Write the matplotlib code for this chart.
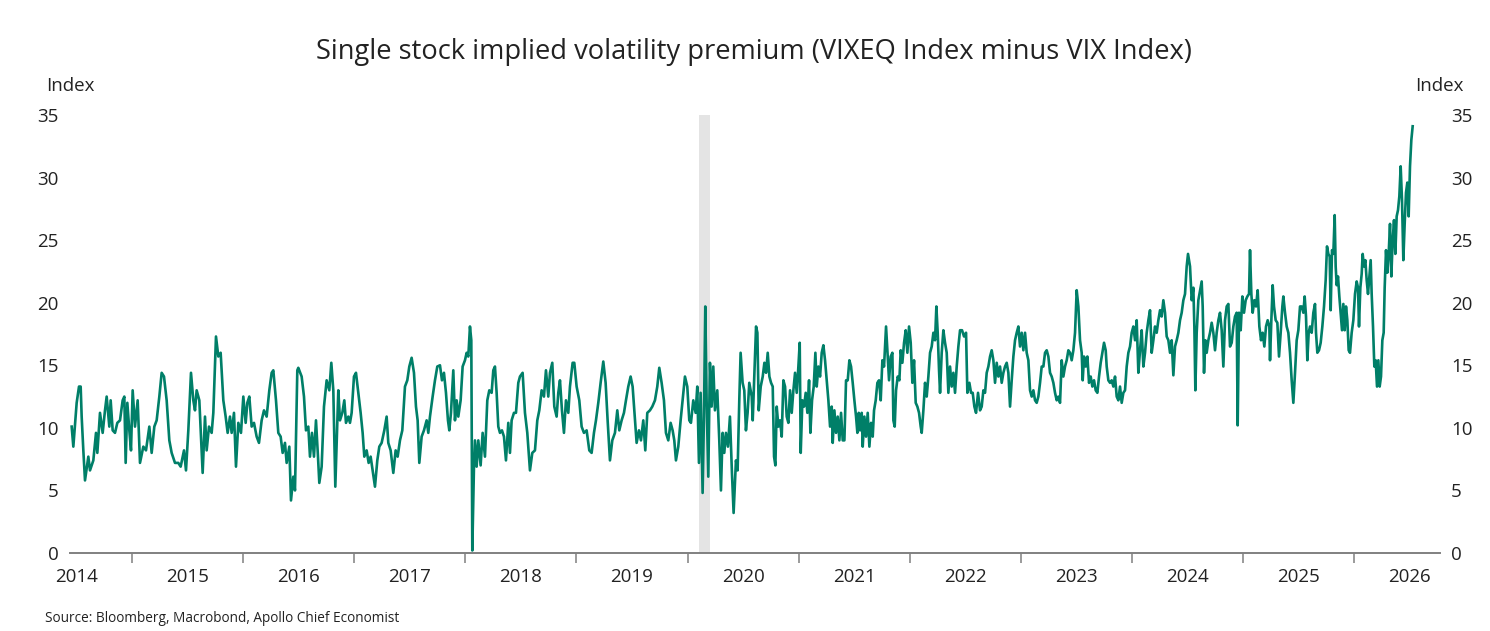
import matplotlib
matplotlib.use("Agg")
import matplotlib.pyplot as plt
import numpy as np

plt.rcParams['font.family'] = ['Open Sans', 'DejaVu Sans']

# decimal year, VIXEQ minus VIX
years = [
    2014.457, 2014.472, 2014.502, 2014.523, 2014.538, 2014.547, 2014.562, 2014.577, 2014.607, 2014.622,
    2014.652, 2014.676, 2014.688, 2014.712, 2014.736, 2014.757, 2014.772, 2014.796, 2014.808, 2014.826,
    2014.847, 2014.868, 2014.892, 2014.916, 2014.931, 2014.943, 2014.958, 2014.976, 2014.991, 2015.006,
    2015.027, 2015.051, 2015.072, 2015.102, 2015.126, 2015.156, 2015.177, 2015.201, 2015.222, 2015.246,
    2015.267, 2015.288, 2015.312, 2015.336, 2015.357, 2015.387, 2015.417, 2015.438, 2015.468, 2015.486,
    2015.507, 2015.531, 2015.552, 2015.567, 2015.582, 2015.606, 2015.624, 2015.636, 2015.657, 2015.672,
    2015.693, 2015.717, 2015.732, 2015.756, 2015.777, 2015.798, 2015.822, 2015.843, 2015.861, 2015.882,
    2015.897, 2015.918, 2015.936, 2015.957, 2015.981, 2016.002, 2016.023, 2016.038, 2016.056, 2016.077,
    2016.098, 2016.122, 2016.143, 2016.167, 2016.188, 2016.212, 2016.236, 2016.257, 2016.272, 2016.296,
    2016.317, 2016.338, 2016.356, 2016.377, 2016.392, 2016.416, 2016.431, 2016.452, 2016.467, 2016.488,
    2016.497, 2016.527, 2016.548, 2016.566, 2016.587, 2016.602, 2016.620, 2016.638, 2016.656, 2016.674,
    2016.686, 2016.707, 2016.728, 2016.752, 2016.776, 2016.794, 2016.812, 2016.830, 2016.857, 2016.872,
    2016.893, 2016.911, 2016.926, 2016.947, 2016.962, 2016.977, 2016.998, 2017.016, 2017.037, 2017.058,
    2017.076, 2017.091, 2017.112, 2017.130, 2017.148, 2017.166, 2017.187, 2017.208, 2017.226, 2017.247,
    2017.271, 2017.292, 2017.307, 2017.328, 2017.352, 2017.373, 2017.391, 2017.412, 2017.433, 2017.457,
    2017.478, 2017.496, 2017.517, 2017.538, 2017.556, 2017.571, 2017.586, 2017.607, 2017.628, 2017.652,
    2017.667, 2017.682, 2017.706, 2017.727, 2017.748, 2017.772, 2017.790, 2017.808, 2017.826, 2017.844,
    2017.856, 2017.871, 2017.892, 2017.907, 2017.922, 2017.937, 2017.958, 2017.976, 2017.997, 2018.012,
    2018.027, 2018.042, 2018.054, 2018.063, 2018.078, 2018.087, 2018.102, 2018.117, 2018.138, 2018.156,
    2018.177, 2018.198, 2018.216, 2018.237, 2018.252, 2018.267, 2018.282, 2018.297, 2018.312, 2018.330,
    2018.348, 2018.366, 2018.387, 2018.402, 2018.417, 2018.438, 2018.456, 2018.477,
    2018.492, 2018.516, 2018.537, 2018.558, 2018.582, 2018.603, 2018.627, 2018.648, 2018.666, 2018.687,
    2018.708, 2018.726, 2018.747, 2018.762, 2018.783, 2018.801, 2018.822, 2018.837, 2018.852, 2018.870,
    2018.888, 2018.906, 2018.927, 2018.942, 2018.966, 2018.981, 2019.002, 2019.026, 2019.047, 2019.068,
    2019.092, 2019.116, 2019.137, 2019.158, 2019.176, 2019.197, 2019.218, 2019.242, 2019.263, 2019.281,
    2019.302, 2019.323, 2019.347, 2019.368, 2019.386, 2019.407, 2019.428, 2019.446, 2019.467, 2019.488,
    2019.506, 2019.527, 2019.542, 2019.563, 2019.581, 2019.602, 2019.620, 2019.638, 2019.662, 2019.683,
    2019.707, 2019.728, 2019.746, 2019.767, 2019.788, 2019.806, 2019.827, 2019.848, 2019.866, 2019.881,
    2019.896, 2019.917, 2019.938, 2019.956, 2019.977, 2019.998, 2020.016, 2020.031, 2020.052, 2020.073,
    2020.088, 2020.103, 2020.118, 2020.136, 2020.148, 2020.160, 2020.172, 2020.187, 2020.202, 2020.217,
    2020.232, 2020.247, 2020.268, 2020.286, 2020.301, 2020.316, 2020.331, 2020.346, 2020.364, 2020.382,
    2020.400, 2020.415, 2020.436, 2020.451, 2020.466, 2020.478, 2020.496, 2020.511, 2020.526, 2020.541,
    2020.556,
    2020.578, 2020.587, 2020.602, 2020.617, 2020.629, 2020.641, 2020.659, 2020.677, 2020.692, 2020.707,
    2020.722, 2020.737, 2020.752, 2020.767, 2020.779, 2020.791, 2020.803, 2020.818, 2020.833, 2020.848,
    2020.863, 2020.878, 2020.893, 2020.908, 2020.923, 2020.938, 2020.953, 2020.968, 2020.983, 2020.998,
    2021.010, 2021.019, 2021.034, 2021.049, 2021.064, 2021.079, 2021.094, 2021.106, 2021.121, 2021.136,
    2021.151, 2021.163, 2021.178, 2021.193, 2021.208, 2021.223, 2021.238, 2021.253, 2021.268, 2021.283,
    2021.298, 2021.307, 2021.322, 2021.337, 2021.352, 2021.367, 2021.382, 2021.397, 2021.412, 2021.427,
    2021.442, 2021.457, 2021.472, 2021.487, 2021.502, 2021.517, 2021.529, 2021.541, 2021.553, 2021.568,
    2021.577, 2021.592, 2021.607, 2021.622, 2021.637, 2021.652, 2021.667, 2021.679, 2021.694, 2021.709,
    2021.724, 2021.739, 2021.754, 2021.769, 2021.787, 2021.799, 2021.814, 2021.829, 2021.844, 2021.853,
    2021.865, 2021.877, 2021.892, 2021.907, 2021.919, 2021.934, 2021.949, 2021.964, 2021.979, 2021.994,
    2022.009, 2022.024, 2022.039, 2022.054, 2022.069, 2022.084, 2022.099, 2022.108, 2022.123, 2022.138,
    2022.153, 2022.168, 2022.183, 2022.198, 2022.213, 2022.228, 2022.240, 2022.252, 2022.264, 2022.273,
    2022.288, 2022.303, 2022.318, 2022.333, 2022.348, 2022.363, 2022.378, 2022.393, 2022.408, 2022.423,
    2022.438, 2022.453, 2022.471, 2022.489, 2022.507, 2022.519, 2022.537, 2022.552, 2022.567, 2022.582,
    2022.597, 2022.615,
    2022.633, 2022.648, 2022.663, 2022.678, 2022.693, 2022.708, 2022.723, 2022.738, 2022.753, 2022.768,
    2022.783, 2022.798, 2022.813, 2022.828, 2022.843, 2022.858, 2022.873, 2022.888, 2022.903, 2022.918,
    2022.933, 2022.948, 2022.963, 2022.978, 2022.993, 2023.008, 2023.023, 2023.038, 2023.053, 2023.068,
    2023.083, 2023.098, 2023.113, 2023.128, 2023.143, 2023.158, 2023.173, 2023.188, 2023.203, 2023.218,
    2023.233, 2023.248, 2023.263, 2023.278, 2023.293, 2023.308, 2023.323, 2023.338, 2023.353, 2023.368,
    2023.383, 2023.398, 2023.413, 2023.428, 2023.443, 2023.458, 2023.473, 2023.488, 2023.503, 2023.518,
    2023.533, 2023.548, 2023.557, 2023.569, 2023.584, 2023.599, 2023.614, 2023.629, 2023.644, 2023.659,
    2023.674, 2023.689, 2023.704, 2023.719, 2023.734, 2023.749, 2023.764, 2023.773, 2023.788, 2023.803,
    2023.818, 2023.833, 2023.848, 2023.863, 2023.878, 2023.893, 2023.908, 2023.923, 2023.938, 2023.953,
    2023.968, 2023.983, 2023.998, 2024.013, 2024.028, 2024.043, 2024.058, 2024.073, 2024.088, 2024.103,
    2024.118, 2024.133, 2024.148, 2024.163, 2024.178, 2024.193, 2024.208, 2024.223, 2024.238, 2024.253,
    2024.268, 2024.283, 2024.298, 2024.313, 2024.328, 2024.343, 2024.358, 2024.373, 2024.388, 2024.403,
    2024.418, 2024.433, 2024.448, 2024.463, 2024.478, 2024.493, 2024.505, 2024.523, 2024.538, 2024.553,
    2024.562, 2024.571, 2024.583, 2024.598,
    2024.628, 2024.637, 2024.649, 2024.661, 2024.673, 2024.688, 2024.703, 2024.718, 2024.733, 2024.748,
    2024.763, 2024.778, 2024.793, 2024.808, 2024.823, 2024.838, 2024.853, 2024.868, 2024.883, 2024.898,
    2024.913, 2024.928, 2024.943, 2024.952, 2024.964, 2024.979, 2024.994, 2025.009, 2025.024, 2025.039,
    2025.054, 2025.063, 2025.075, 2025.087, 2025.102, 2025.117, 2025.132, 2025.147, 2025.162, 2025.177,
    2025.192, 2025.207, 2025.222, 2025.237, 2025.243, 2025.255, 2025.267, 2025.279, 2025.294, 2025.309,
    2025.324, 2025.339, 2025.354, 2025.363, 2025.378, 2025.393, 2025.408, 2025.423, 2025.438, 2025.453,
    2025.468, 2025.483, 2025.498, 2025.513, 2025.528, 2025.543, 2025.555, 2025.567, 2025.579, 2025.591,
    2025.603, 2025.618, 2025.633, 2025.648, 2025.657, 2025.669, 2025.684, 2025.699, 2025.714, 2025.729,
    2025.744, 2025.756, 2025.768, 2025.780, 2025.789, 2025.801, 2025.813, 2025.825, 2025.834, 2025.843,
    2025.855, 2025.867, 2025.879, 2025.891, 2025.903, 2025.915, 2025.927, 2025.939, 2025.951, 2025.963,
    2025.978, 2025.993, 2026.008, 2026.023, 2026.035, 2026.044, 2026.056, 2026.068, 2026.077, 2026.089,
    2026.101, 2026.113, 2026.125, 2026.137, 2026.149, 2026.158, 2026.170, 2026.182, 2026.194, 2026.206,
    2026.218, 2026.230, 2026.242, 2026.254, 2026.266, 2026.275, 2026.287, 2026.299, 2026.311, 2026.323,
    2026.335, 2026.347, 2026.359, 2026.371, 2026.383, 2026.395, 2026.407, 2026.419, 2026.431, 2026.443,
    2026.455, 2026.467, 2026.479, 2026.491, 2026.503, 2026.515, 2026.527,
]

premium = [
    10.1, 8.5, 12.0, 13.3, 13.3, 10.9, 8.2, 5.8, 7.7, 6.6,
    7.4, 9.6, 8.0, 11.2, 9.6, 11.4, 12.5, 10.1, 12.2, 9.8,
    9.6, 10.4, 10.6, 12.2, 12.5, 7.2, 12.0, 9.8, 8.2, 13.0,
    10.1, 12.2, 7.2, 8.5, 8.2, 10.1, 8.0, 10.1, 10.6, 12.5,
    14.4, 14.1, 12.2, 9.0, 8.0, 7.2, 7.2, 6.9, 8.2, 6.6,
    9.8, 14.4, 12.2, 11.4, 13.0, 12.2, 8.8, 6.4, 10.9, 8.2,
    10.1, 9.6, 11.2, 17.3, 15.7, 16.0, 12.2, 10.9, 9.6, 10.9,
    9.6, 11.2, 6.9, 10.4, 9.6, 12.5, 10.4, 12.0, 12.5, 10.1,
    10.4, 9.3, 8.8, 10.6, 11.4, 10.9, 13.0, 14.4, 14.6, 12.2,
    9.6, 9.3, 8.0, 8.8, 7.2, 8.5, 4.2, 6.1, 5.0, 14.6,
    14.8, 14.1, 12.5, 9.8, 10.1, 7.7, 9.6, 7.7, 10.6, 7.7,
    5.6, 6.9, 11.7, 13.8, 13.0, 15.2, 13.0, 5.3, 13.0, 10.6,
    11.2, 12.2, 10.4, 10.9, 10.4, 11.2, 14.1, 14.4, 12.8, 11.2,
    9.6, 7.7, 8.2, 7.2, 7.7, 6.6, 5.3, 7.4, 8.5, 8.8,
    9.8, 10.9, 8.8, 8.2, 6.4, 8.2, 7.7, 9.0, 9.8, 13.3,
    13.8, 14.9, 15.6, 14.4, 11.7, 10.6, 7.2, 9.3, 9.8, 10.6,
    9.6, 10.9, 12.5, 13.8, 14.9, 15.0, 13.8, 14.4, 12.8, 10.6,
    9.8, 11.2, 14.6, 10.6, 12.2, 10.9, 12.2, 14.9, 15.4, 16.0,
    15.7, 18.1, 17.0, 0.2, 6.9, 9.0, 6.9, 9.0, 7.0, 9.6,
    7.7, 12.2, 13.0, 12.8, 14.6, 14.9, 12.8, 10.1, 9.6, 9.8,
    9.3, 7.4, 10.4, 8.0, 10.6, 11.2, 11.2, 13.6,
    14.1, 14.4, 11.2, 9.6, 6.6, 8.0, 8.2, 10.6, 11.4, 13.0,
    12.5, 14.6, 12.5, 14.4, 15.2, 11.7, 10.9, 12.8, 13.8, 11.4,
    9.6, 12.2, 11.2, 13.3, 15.2, 15.2, 13.3, 12.2, 10.1, 9.6,
    9.8, 8.2, 8.0, 9.6, 10.6, 12.0, 13.6, 15.3, 13.6, 10.6,
    7.4, 9.0, 9.6, 11.4, 9.8, 10.6, 11.2, 12.2, 13.3, 14.1,
    13.3, 10.6, 8.8, 9.8, 9.0, 10.6, 8.2, 11.2, 11.4, 11.7,
    12.2, 13.3, 14.8, 13.6, 12.2, 9.6, 9.0, 10.4, 9.8, 9.0,
    7.4, 8.5, 10.6, 12.2, 14.1, 13.3, 10.6, 10.4, 12.2, 11.2,
    13.3, 7.2, 12.8, 4.8, 10.9, 19.7, 12.2, 6.1, 15.2, 11.7,
    14.9, 11.4, 13.0, 9.0, 5.0, 9.6, 8.0, 9.6, 8.5, 10.9,
    6.4, 3.2, 7.4, 6.6, 12.2, 16.0, 13.6, 13.0, 9.8, 11.2,
    13.6,
    12.5, 10.6, 14.4, 18.1, 17.6, 11.4, 13.3, 14.1, 15.2, 14.4,
    16.0, 14.1, 13.6, 13.3, 7.7, 7.0, 11.7, 10.1, 10.6, 9.3,
    13.8, 13.3, 10.9, 10.4, 13.0, 11.2, 13.0, 14.4, 12.8, 14.9,
    16.8, 8.0, 12.2, 11.7, 12.8, 11.2, 13.8, 9.6, 12.2, 13.3,
    16.0, 13.3, 14.9, 14.1, 16.0, 16.6, 15.4, 13.8, 12.2, 10.1,
    11.7, 8.8, 11.4, 9.6, 10.9, 9.0, 11.2, 9.0, 9.0, 13.8,
    13.8, 15.4, 14.9, 13.6, 12.2, 10.9, 9.6, 11.2, 9.8, 11.2,
    8.5, 10.9, 9.3, 11.2, 8.5, 10.4, 9.3, 11.4, 12.2, 13.6,
    13.8, 12.2, 15.4, 14.9, 18.1, 16.2, 13.8, 15.7, 16.0, 10.6,
    10.1, 13.0, 14.1, 13.8, 16.2, 15.2, 16.8, 17.8, 16.0, 18.1,
    16.8, 13.6, 15.4, 12.0, 11.7, 11.2, 10.1, 9.6, 11.4, 13.6,
    12.5, 14.1, 16.0, 16.5, 17.6, 17.0, 19.7, 17.6, 14.6, 12.8,
    16.0, 17.8, 16.8, 16.0, 12.8, 14.9, 13.3, 14.4, 12.8, 14.9,
    16.5, 17.8, 17.8, 17.3, 17.6, 12.8, 13.6, 12.8, 12.8, 11.7,
    11.2, 12.8,
    11.4, 11.7, 13.0, 12.8, 14.4, 14.9, 15.7, 16.2, 15.4, 13.6,
    15.2, 14.1, 14.9, 13.6, 14.4, 14.9, 15.2, 14.4, 11.7, 13.8,
    15.7, 17.0, 17.6, 18.1, 16.5, 17.6, 16.2, 17.6, 16.0, 15.4,
    13.0, 12.5, 13.0, 12.2, 12.0, 12.5, 13.6, 14.9, 14.9, 16.0,
    16.2, 15.7, 14.4, 14.1, 13.6, 12.8, 12.2, 12.5, 12.0, 15.4,
    14.1, 14.9, 15.4, 16.2, 16.0, 15.4, 16.2, 17.6, 21.0, 19.7,
    17.0, 16.0, 13.8, 15.7, 14.9, 15.7, 13.6, 14.1, 13.3, 13.8,
    13.0, 12.8, 14.1, 15.2, 16.0, 16.8, 16.2, 14.9, 13.8, 13.6,
    13.8, 13.3, 14.1, 12.5, 12.2, 13.3, 12.0, 12.8, 13.0, 14.9,
    16.0, 16.5, 17.6, 18.1, 17.0, 18.6, 14.4, 16.2, 17.8, 14.9,
    16.0, 17.6, 18.6, 19.4, 16.0, 17.0, 18.1, 17.6, 18.6, 19.4,
    18.9, 20.2, 19.2, 17.3, 17.0, 16.0, 17.0, 14.2, 16.5, 17.0,
    17.6, 18.6, 19.2, 20.2, 20.7, 22.9, 23.9, 22.9, 20.2, 21.2,
    18.1, 13.0, 17.6, 20.2,
    21.7, 19.7, 14.4, 17.0, 16.0, 17.0, 17.6, 18.4, 17.6, 16.2,
    17.6, 18.6, 19.2, 17.8, 14.9, 18.6, 19.7, 19.9, 16.5, 16.8,
    18.1, 18.9, 19.2, 10.2, 19.2, 17.8, 20.5, 19.2, 20.2, 20.5,
    20.7, 24.2, 20.7, 19.2, 20.2, 19.7, 21.0, 18.1, 17.0, 17.6,
    16.5, 18.1, 18.6, 18.1, 15.4, 18.6, 21.4, 19.7, 18.6, 18.4,
    15.7, 17.6, 19.7, 20.5, 19.2, 18.1, 17.6, 16.0, 13.8, 12.0,
    14.4, 17.0, 17.8, 19.7, 19.7, 19.2, 20.5, 18.9, 15.4, 17.6,
    18.1, 17.6, 19.2, 19.9, 17.6, 16.0, 16.2, 16.8, 18.1, 19.7,
    21.8, 24.5, 23.9, 23.7, 19.4, 24.2, 23.9, 27.0, 22.9, 21.4,
    22.1, 20.5, 19.2, 17.8, 19.9, 17.8, 19.7, 18.6, 16.2, 16.0,
    17.6, 18.6, 20.7, 21.7, 21.2, 18.1, 21.2, 22.3, 23.9, 22.9,
    23.4, 21.8, 20.7, 22.1, 23.4, 20.7, 18.1, 14.9, 15.4, 13.3,
    15.4, 13.3, 14.1, 17.0, 17.6, 21.2, 24.2, 22.4, 23.9, 26.3,
    22.1, 25.0, 26.6, 23.9, 26.9, 27.4, 28.5, 30.9, 28.2, 23.4,
    26.3, 28.8, 29.6, 26.9, 30.9, 33.0, 34.1,
]

year_ticks = list(range(2015, 2027))
year_labels = [str(y) for y in range(2014, 2027)]
y_ticks = [0, 5, 10, 15, 20, 25, 30, 35]
recession = (2020.10, 2020.20)

line_color = "#007F68"

fig = plt.figure(figsize=(14.9, 6.31), dpi=100)
ax = fig.add_axes([70 / 1490, 78 / 631, 1370 / 1490, 438 / 631])

ax.axvspan(recession[0], recession[1], color="#e4e4e4", lw=0, zorder=1)
ax.plot(years, premium, color=line_color, lw=1.9, zorder=3)

ax.set_xlim(2014.442, 2026.773)
ax.set_ylim(0, 35)

# year boundary ticks, labels centred in each year
ax.set_xticks(year_ticks)
ax.set_xticklabels([])
ax.set_xticks([y + 0.5 for y in range(2014, 2027)], minor=True)
ax.set_xticklabels(year_labels, minor=True)
ax.tick_params(axis="x", which="major", length=7, width=1.1, color="#808080", direction="out")
ax.tick_params(axis="x", which="minor", length=0, pad=11, labelsize=13.5, labelcolor="#222222")

ax.set_yticks(y_ticks)
ax.tick_params(axis="y", which="both", length=0, labelsize=13.5, labelcolor="#222222",
               left=True, right=True, labelleft=True, labelright=True, pad=8)

for side in ["top", "left", "right"]:
    ax.spines[side].set_visible(False)
ax.spines["bottom"].set_color("#808080")
ax.spines["bottom"].set_linewidth(1.4)
ax.spines["bottom"].set_zorder(2)

fig.text(754 / 1490, 1 - 52 / 631, "Single stock implied volatility premium (VIXEQ Index minus VIX Index)",
         ha="center", va="center", fontsize=19.6, color="#222222")
fig.text(46 / 1490, 1 - 86 / 631, "Index", ha="left", va="center", fontsize=13.5, color="#222222")
fig.text(1464 / 1490, 1 - 86 / 631, "Index", ha="right", va="center", fontsize=13.5, color="#222222")
fig.text(45 / 1490, 1 - 619 / 631, "Source: Bloomberg, Macrobond, Apollo Chief Economist",
         ha="left", va="center", fontsize=9.8, color="#222222")

fig.savefig("out.png", dpi=100)
